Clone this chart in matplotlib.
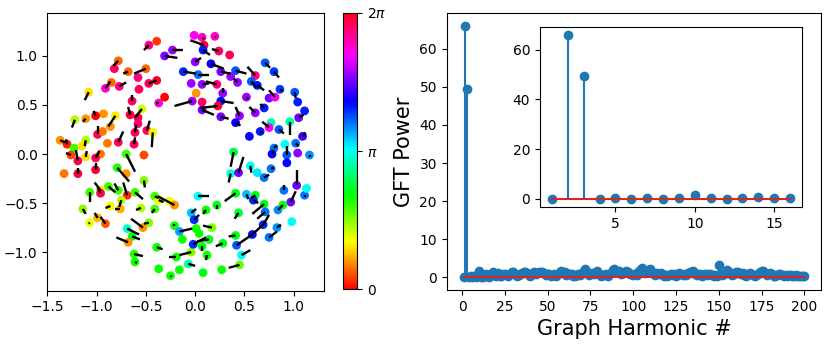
import numpy as np
import matplotlib
matplotlib.use("Agg")
import matplotlib.pyplot as plt
from matplotlib.collections import LineCollection

# ---- Left panel: node positions, phase (as fraction of 2*pi), and line vectors ----
node_x = [-0.47, -0.39, -0.23, -0.31, -0.01, 0.07, 0.20, 0.09, 0.08, 0.24, 0.35, 0.00, 0.16, 0.26, 0.41,
          0.36, 0.43, 0.61, 0.71, 0.80, 0.57, 0.63, 0.86, 0.75, 0.81, 0.52, 1.01, 1.04, 1.11, 1.05,
          0.61, 0.70, 0.45, 0.26, 0.41, 0.77, 0.75, 0.96, 0.85, 0.66, 0.55, 1.09, 0.91, 1.02, 0.80,
          0.03, -0.04, 0.07, 0.22, 0.01, -0.03, 0.07, 0.28, 0.26, 0.23, 0.07, -0.12,
          -0.78, -0.82, -0.68, -0.50, -0.58, -0.39, -0.47, -0.85, -0.91, -0.77, -0.57, -1.08, -0.64,
          -0.31, -0.37, -1.22, -1.11, -0.93, -1.01, -0.81, -0.86, -0.99, -0.94, -0.66, -0.54, -0.58,
          -0.58, -0.61, -0.49, -0.43, -0.62, -1.37, -1.30, -1.11, -1.15, -1.23, -0.89, -0.78,
          -1.26, -1.19, -1.11, -0.96, -1.01, -1.01, -1.33, -1.19, -0.70, -0.52, -0.79, -0.70, -0.52,
          -0.88, -0.96, -0.96, -1.07, -0.78, -0.69, -0.61, -0.75, -0.41, -0.37, -0.26, -0.21, -0.86,
          -0.76, -1.14, -0.55, -0.41, -1.07, -0.99, -0.91, -0.69, -0.47, -0.53, -0.64, -0.68, -0.62,
          -0.61, -0.39, -0.37, -0.25, -0.16, -0.19, -0.04, -0.07, 0.08, -0.21, -0.16, -0.13, -0.02,
          0.03, -0.04, -0.01, 0.01, 0.11, 0.07,
          0.78, 0.93, 0.93, 1.04, 1.16, 0.39, 0.36, 0.44, 0.56, 0.63, 0.70, 0.77, 0.90, 1.03, 0.97,
          1.11, 1.13, 0.84, 0.89, 0.98, 0.83, 0.75, 0.70, 0.71, 0.69, 0.58, 0.42, 0.47, 0.45, 0.27,
          0.41, 0.28, 0.17, 0.14, 0.12, 0.04, 0.22, 0.41, 0.44, 0.52, 0.61, 0.59]
node_y = [1.11, 1.15, 1.06, 1.00, 1.21, 1.19, 1.20, 1.11, 1.06, 1.05, 1.01, 0.94, 0.92, 0.84, 0.85,
          0.79, 0.73, 0.80, 0.93, 0.84, 0.74, 0.70, 0.66, 0.57, 0.58, 0.58, 0.63, 0.53, 0.44, 0.37,
          0.42, 0.47, 0.39, 0.38, 0.32, 0.32, 0.27, 0.33, 0.25, 0.23, 0.18, 0.18, 0.10, 0.11, 0.06,
          0.81, 0.72, 0.71, 0.71, 0.62, 0.54, 0.53, 0.62, 0.54, 0.49, 0.45, 0.84,
          0.95, 0.87, 0.84, 0.87, 0.78, 0.75, 0.72, 0.73, 0.67, 0.69, 0.66, 0.63, 0.54,
          0.58, 0.52, 0.35, 0.36, 0.41, 0.39, 0.39, 0.28, 0.20, 0.23, 0.40, 0.46, 0.37,
          0.31, 0.22, 0.24, 0.22, 0.10, 0.14, 0.10, 0.14, 0.08, 0.06, 0.11, 0.12,
          -0.01, -0.07, -0.03, 0.00, -0.04, -0.16, -0.20, -0.20, 0.00, -0.01, -0.14, -0.20, -0.27,
          -0.33, -0.37, -0.40, -0.39, -0.37, -0.42, -0.39, -0.47, -0.43, -0.47, -0.48, -0.52, -0.53,
          -0.56, -0.56, -0.55, -0.56, -0.70, -0.65, -0.71, -0.76, -0.70, -0.75, -0.84, -0.90, -1.02,
          -1.10, -0.95, -1.17, -1.24, -1.18, -1.05, -1.00, -1.12, -1.21, -0.73, -0.79, -0.87, -0.92,
          -0.43, -0.60, -0.67, -0.76, -0.57, -0.94,
          0.00, -0.01, -0.09, 0.01, -0.01, 0.02, -0.20, -0.19, -0.12, -0.19, -0.24, -0.15, -0.37, -0.32, -0.49,
          -0.42, -0.35, -0.57, -0.52, -0.69, -0.75, -0.85, -0.51, -0.59, -0.72, -0.82, -0.93, -1.03, -1.13, -1.18,
          -0.83, -0.91, -0.75, -0.87, -1.03, -0.81, -0.52, -0.40, -0.60, -0.41, -0.42, -0.47]
node_phase_frac = [0.93, 0.04, 0.78, 0.76, 0.85, 0.88, 0.88, 0.98, 0.66, 0.95, 0.95, 0.77, 0.68, 0.76, 0.62,
                   0.78, 0.78, 0.93, 0.62, 0.64, 0.62, 0.66, 0.64, 0.75, 0.85, 0.78, 0.62, 0.66, 0.66, 0.75,
                   0.78, 0.66, 0.78, 0.75, 0.68, 0.45, 0.85, 0.45, 0.62, 0.66, 0.68, 0.72, 0.50, 0.60, 0.60,
                   0.60, 0.78, 0.78, 0.93, 0.10, 0.78, 0.95, 0.78, 0.67, 0.98, 0.76, 0.65,
                   0.07, 0.95, 0.07, 0.07, 0.93, 0.99, 0.95, 0.07, 0.88, 0.93, 0.96, 0.15, 0.95,
                   0.00, 0.87, 0.22, 0.10, 0.10, 0.00, 0.16, 0.10, 0.95, 0.08, 0.98, 0.20, 0.98,
                   0.94, 0.95, 0.95, 0.17, 0.95, 0.10, 0.02, 0.22, 0.15, 0.30, 0.08, 0.95,
                   0.05, 0.96, 0.15, 0.08, 0.95, 0.98, 0.08, 0.98, 0.30, 0.05, 0.32, 0.10, 0.25,
                   0.30, 0.15, 0.95, 0.30, 0.30, 0.03, 0.30, 0.22, 0.30, 0.18, 0.18, 0.10, 0.17,
                   0.12, 0.25, 0.23, 0.30, 0.18, 0.12, 0.06, 0.47, 0.25, 0.10, 0.35, 0.10, 0.32,
                   0.33, 0.33, 0.33, 0.33, 0.33, 0.33, 0.25, 0.45, 0.35, 0.33, 0.57, 0.33, 0.65,
                   0.50, 0.55, 0.65, 0.33, 0.33, 0.35,
                   0.68, 0.62, 0.68, 0.77, 0.58, 0.38, 0.48, 0.75, 0.50, 0.52, 0.60, 0.60, 0.60, 0.75, 0.75,
                   0.60, 0.50, 0.58, 0.35, 0.50, 0.58, 0.60, 0.35, 0.60, 0.65, 0.67, 0.62, 0.50, 0.27, 0.33,
                   0.35, 0.36, 0.25, 0.35, 0.33, 0.33, 0.35, 0.35, 0.37, 0.55, 0.35, 0.65]
line_u = [-0.05, 0.00, 0.11, 0.13, 0.00, 0.02, 0.01, -0.14, 0.07, -0.07, 0.00, 0.06, 0.13, 0.10, 0.11,
          0.00, -0.04, -0.08, 0.05, 0.05, 0.05, 0.07, 0.03, 0.00, -0.06, 0.02, 0.01, 0.00, 0.00, 0.05,
          -0.06, -0.04, -0.04, 0.08, 0.05, 0.00, -0.07, 0.00, 0.05, 0.02, 0.00, 0.03, 0.00, 0.03, 0.03,
          0.11, 0.00, 0.07, -0.11, 0.00, -0.18, 0.00, 0.00, 0.13, -0.18, 0.12, 0.13,
          -0.05, 0.00, -0.05, -0.12, 0.00, 0.00, 0.08, 0.00, 0.05, 0.07, 0.00, -0.04, 0.00,
          0.00, -0.03, -0.03, -0.03, 0.00, -0.02, -0.07, 0.00, 0.00, 0.00, -0.02, -0.07, 0.00,
          0.00, 0.01, 0.03, -0.01, 0.01, 0.05, -0.01, -0.01, 0.00, 0.00, 0.00, 0.05,
          -0.05, -0.02, 0.01, 0.00, 0.04, 0.00, 0.00, 0.00, 0.09, 0.00, 0.12, 0.00, 0.01,
          0.07, -0.06, -0.03, 0.00, -0.04, -0.04, 0.08, -0.02, 0.04, 0.05, 0.00, -0.17, -0.05,
          -0.05, 0.03, -0.05, -0.03, -0.01, -0.03, -0.05, 0.12, -0.05, -0.12, 0.08, -0.12, 0.09,
          0.02, 0.06, 0.00, 0.01, 0.00, -0.08, -0.12, 0.07, 0.00, 0.00, 0.13, 0.00, 0.13,
          0.11, 0.05, 0.05, 0.00, -0.03, 0.00,
          0.02, 0.00, 0.00, 0.00, 0.01, -0.03, -0.02, 0.05, 0.01, 0.00, 0.05, 0.03, 0.00, 0.00, 0.05,
          0.00, 0.00, 0.05, 0.00, 0.00, 0.04, 0.08, -0.12, -0.08, 0.06, 0.12, 0.16, 0.09, -0.11, 0.00,
          -0.07, -0.07, -0.09, -0.12, -0.01, 0.00, 0.00, -0.11, -0.04, 0.02, -0.04, 0.05]
line_v = [-0.05, 0.00, 0.00, -0.02, 0.00, -0.02, -0.01, 0.05, -0.05, 0.02, 0.00, 0.04, -0.05, -0.02, -0.03,
          0.00, 0.04, 0.09, -0.05, -0.06, -0.06, -0.05, -0.02, 0.00, 0.07, -0.02, -0.06, 0.00, 0.00, 0.03,
          0.06, 0.04, 0.09, -0.02, -0.03, 0.00, 0.06, -0.14, -0.04, -0.02, 0.00, 0.04, 0.00, -0.03, 0.03,
          0.00, 0.00, 0.01, 0.03, 0.00, -0.05, 0.00, 0.05, -0.02, -0.02, -0.05, -0.02,
          -0.05, 0.00, -0.02, -0.05, 0.00, 0.00, 0.03, 0.00, 0.07, 0.04, 0.00, -0.08, 0.06,
          0.00, 0.00, -0.08, -0.03, 0.00, 0.05, -0.11, 0.00, 0.09, 0.00, 0.08, -0.09, 0.00,
          0.00, 0.08, 0.10, -0.15, 0.07, -0.02, 0.05, -0.06, 0.00, 0.00, 0.00, 0.11,
          0.02, 0.11, 0.06, 0.00, 0.07, 0.07, 0.00, 0.06, -0.18, 0.00, -0.14, 0.00, -0.07,
          -0.06, 0.08, 0.06, -0.10, 0.07, 0.13, -0.07, -0.07, -0.02, -0.02, 0.00, 0.09, -0.02,
          0.00, -0.05, -0.02, -0.04, -0.01, 0.05, 0.07, -0.06, -0.01, 0.09, -0.03, 0.05, -0.02,
          -0.01, -0.02, 0.00, -0.01, 0.00, 0.00, -0.03, -0.02, 0.00, 0.02, 0.03, 0.00, 0.07,
          0.00, 0.04, 0.05, 0.00, -0.04, -0.05,
          0.03, 0.09, 0.00, 0.00, -0.02, -0.15, -0.09, 0.16, -0.07, 0.00, 0.03, 0.01, 0.05, 0.16, 0.11,
          -0.02, 0.00, 0.05, 0.00, 0.00, 0.03, 0.06, -0.10, -0.07, 0.10, 0.11, 0.11, 0.05, -0.03, 0.00,
          -0.01, -0.03, 0.02, -0.02, -0.05, 0.00, -0.04, -0.08, -0.06, -0.05, -0.03, -0.03]

# ---- Right panel: graph Fourier transform power per harmonic (1..200) ----
gft_power = [0.0, 66.0, 49.5, 0.1, 0.3, 0.1, 0.5, 0.1, 0.3, 1.6,
             0.2, 0.1, 0.4, 0.8, 0.4, 0.2, 0.9, 1.5, 0.7, 0.4,
             1.1, 0.5, 0.3, 0.8, 1.0, 0.6, 0.4, 0.9, 1.3, 1.5,
             0.8, 0.3, 0.6, 0.9, 1.1, 1.3, 1.4, 1.2, 0.7, 0.5,
             1.0, 1.3, 0.8, 1.2, 1.3, 1.4, 1.5, 1.1, 0.6, 0.9,
             1.0, 0.4, 0.7, 0.9, 0.5, 0.8, 1.3, 1.8, 1.1, 1.4,
             0.6, 0.9, 1.0, 0.8, 0.5, 0.3, 0.7, 0.9, 0.6, 1.1,
             1.7, 2.3, 1.4, 0.6, 0.9, 1.2, 1.0, 1.3, 1.6, 0.8,
             0.4, 0.7, 0.6, 0.9, 0.5, 0.8, 1.2, 1.9, 2.3, 1.7,
             1.4, 1.8, 1.0, 1.2, 1.4, 1.6, 1.3, 0.8, 0.9, 0.7,
             1.0, 0.6, 1.3, 2.0, 2.6, 1.8, 1.1, 1.5, 1.9, 2.2,
             1.3, 0.9, 0.7, 1.1, 1.0, 1.2, 0.8, 0.5, 0.6, 0.4,
             0.7, 0.9, 0.6, 0.8, 0.5, 1.0, 1.1, 0.9, 0.6, 1.0,
             0.7, 1.2, 1.3, 1.4, 1.6, 1.0, 0.6, 0.9, 0.8, 0.5,
             0.7, 1.0, 0.6, 0.8, 0.9, 0.7, 0.4, 0.6, 0.5, 3.3,
             1.0, 0.6, 0.9, 1.3, 2.0, 1.4, 0.8, 0.6, 1.0, 1.5,
             1.3, 1.1, 0.9, 1.2, 0.7, 0.5, 0.9, 1.2, 1.0, 0.6,
             0.4, 0.7, 1.0, 1.4, 1.7, 1.6, 1.1, 0.6, 0.9, 1.2,
             0.8, 0.5, 0.3, 0.6, 0.9, 0.8, 0.7, 0.4, 0.6, 0.5,
             0.7, 0.6, 0.4, 0.5, 0.6, 0.5, 0.3, 0.4, 0.5, 0.4]
harmonic = list(range(1, len(gft_power) + 1))
inset_n = 16

fig = plt.figure(figsize=(8.3, 3.44), dpi=100)

# Left scatter
ax1 = fig.add_axes([0.057, 0.155, 0.3337, 0.807])
x = np.array(node_x); y = np.array(node_y)
u = np.array(line_u); v = np.array(line_v)
phase = np.array(node_phase_frac) * 2 * np.pi
sc = ax1.scatter(x, y, c=phase, cmap='hsv', vmin=0, vmax=2 * np.pi, s=40,
                 edgecolors='none', zorder=2)
segs = np.stack([np.column_stack([x, y]), np.column_stack([x + u, y + v])], axis=1)
ax1.add_collection(LineCollection(segs, colors='black', linewidths=1.7, zorder=3))
ax1.set_xlim(-1.5, 1.31)
ax1.set_ylim(-1.393, 1.437)
ax1.set_xticks([-1.5, -1.0, -0.5, 0.0, 0.5, 1.0])
ax1.set_yticks([-1.0, -0.5, 0.0, 0.5, 1.0])

cax = fig.add_axes([0.4133, 0.159, 0.0169, 0.804])
cb = fig.colorbar(sc, cax=cax)
cb.set_ticks([0, np.pi, 2 * np.pi])
cb.set_ticklabels(['0', r'$\pi$', r'$2\pi$'])
cb.outline.set_linewidth(0.8)

# Right stem plot
ax2 = fig.add_axes([0.5382, 0.157, 0.4514, 0.8044])
ml, sl, bl = ax2.stem(harmonic, gft_power)
bl.set_color('C3')
ax2.set_xlabel('Graph Harmonic #', fontsize=15)
ax2.set_ylabel('GFT Power', fontsize=15)
ax2.set_xticks([0, 25, 50, 75, 100, 125, 150, 175, 200])
ax2.set_yticks([0, 10, 20, 30, 40, 50, 60])

# Inset
ax3 = fig.add_axes([0.6506, 0.3983, 0.3157, 0.524])
ml3, sl3, bl3 = ax3.stem(harmonic[:inset_n], gft_power[:inset_n])
bl3.set_color('C3')
ax3.set_xticks([5, 10, 15])
ax3.set_yticks([0, 20, 40, 60])

fig.savefig('out.png', dpi=100)
